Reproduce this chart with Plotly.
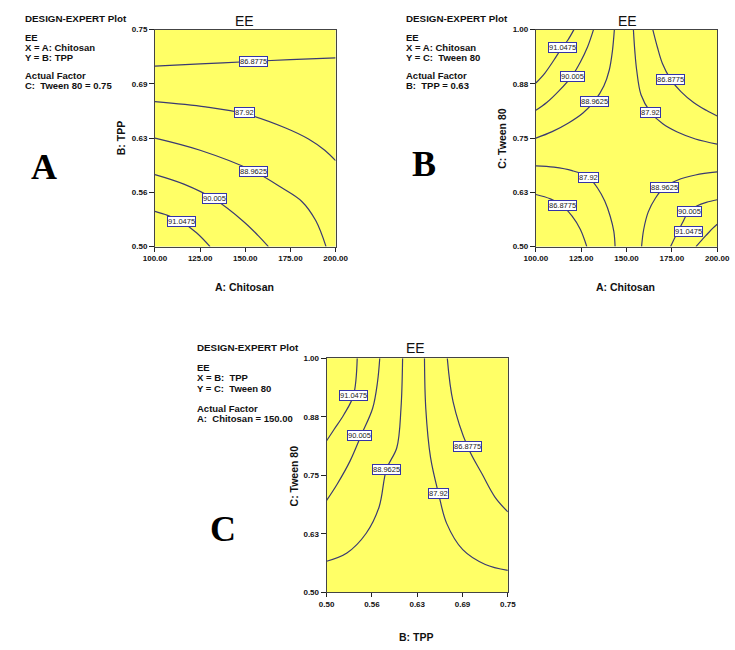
import plotly.graph_objects as go

# ---------------- Plot A: X = A: Chitosan, Y = B: TPP (C: Tween 80 = 0.75)
a_x_tickvals = [100, 125, 150, 175, 200]
a_x_ticktext = ["100.00", "125.00", "150.00", "175.00", "200.00"]
a_y_tickvals = [0.5, 0.5625, 0.625, 0.6875, 0.75]
a_y_ticktext = ["0.50", "0.56", "0.63", "0.69", "0.75"]

a_86877_x = [100, 125, 150, 175, 200]
a_86877_y = [0.708, 0.7105, 0.713, 0.7155, 0.7175]
a_8792_x = [100, 128, 150, 172, 185, 194, 200]
a_8792_y = [0.667, 0.661, 0.653, 0.637, 0.624, 0.611, 0.599]
a_889625_x = [100, 125, 154.5, 170, 181.3, 189, 194.7]
a_889625_y = [0.625, 0.611, 0.587, 0.568, 0.552, 0.53, 0.5]
a_90005_x = [100, 116, 133, 149, 157, 162.8]
a_90005_y = [0.583, 0.572, 0.5545, 0.529, 0.513, 0.5]
a_910475_x = [100, 107, 114.4, 123, 130.5]
a_910475_y = [0.5406, 0.536, 0.529, 0.516, 0.5]

a_label_text = ["86.8775", "87.92", "88.9625", "90.005", "91.0475"]
a_label_x = [154.6, 149.6, 154.6, 132.9, 114.6]
a_label_y = [0.7138, 0.654, 0.5867, 0.555, 0.529]

# ---------------- Plot B: X = A: Chitosan, Y = C: Tween 80 (B: TPP = 0.63)
b_x_tickvals = [100, 125, 150, 175, 200]
b_x_ticktext = ["100.00", "125.00", "150.00", "175.00", "200.00"]
b_y_tickvals = [0.5, 0.625, 0.75, 0.875, 1.0]
b_y_ticktext = ["0.50", "0.63", "0.75", "0.88", "1.00"]

b_tl_910475_x = [121.0, 117.5, 114.7, 110, 105, 100]
b_tl_910475_y = [1.0, 0.975, 0.96, 0.93, 0.90, 0.877]
b_tl_90005_x = [131.8, 128.5, 124.5, 119.9, 113, 106, 100]
b_tl_90005_y = [1.0, 0.96, 0.925, 0.893, 0.86, 0.832, 0.814]
b_tl_889625_x = [143.3, 142.2, 140.5, 137.5, 132.3, 126, 118, 109, 100]
b_tl_889625_y = [1.0, 0.95, 0.907, 0.87, 0.835, 0.808, 0.785, 0.765, 0.75]
b_tr_8792_x = [153.8, 154.6, 155.6, 158, 163.2, 170, 178, 188, 200]
b_tr_8792_y = [1.0, 0.95, 0.907, 0.85, 0.81, 0.783, 0.764, 0.748, 0.736]
b_tr_86877_x = [164.5, 167, 169.8, 174.3, 180, 187, 194, 200]
b_tr_86877_y = [1.0, 0.96, 0.922, 0.886, 0.857, 0.832, 0.814, 0.801]
b_bl_8792_x = [100, 110, 120, 129, 134, 138, 141, 143, 143.7]
b_bl_8792_y = [0.686, 0.683, 0.675, 0.66, 0.635, 0.605, 0.57, 0.535, 0.5]
b_bl_86877_x = [100, 108, 114.4, 120, 124.5, 128.1]
b_bl_86877_y = [0.62, 0.61, 0.595, 0.57, 0.54, 0.5]
b_br_889625_x = [158.3, 159.5, 162, 166, 170.7, 178, 188, 200]
b_br_889625_y = [0.5, 0.54, 0.58, 0.612, 0.636, 0.653, 0.665, 0.672]
b_br_90005_x = [174.3, 177.5, 181, 184, 189, 194, 200]
b_br_90005_y = [0.5, 0.528, 0.556, 0.5795, 0.594, 0.602, 0.608]
b_br_910475_x = [188.3, 191.5, 194.6, 197.5, 200]
b_br_910475_y = [0.5, 0.515, 0.529, 0.542, 0.5516]

b_label_text = ["91.0475", "90.005", "88.9625", "87.92", "86.8775",
                "87.92", "86.8775", "88.9625", "90.005", "91.0475"]
b_label_x = [114.7, 120.0, 132.3, 163.2, 174.3, 129.1, 114.6, 170.9, 184.6, 184.3]
b_label_y = [0.96, 0.893, 0.835, 0.81, 0.886, 0.66, 0.595, 0.636, 0.58, 0.534]

# ---------------- Plot C: X = B: TPP, Y = C: Tween 80 (A: Chitosan = 150.00)
c_x_tickvals = [0.5, 0.5625, 0.625, 0.6875, 0.75]
c_x_ticktext = ["0.50", "0.56", "0.63", "0.69", "0.75"]
c_y_tickvals = [0.5, 0.625, 0.75, 0.875, 1.0]
c_y_ticktext = ["0.50", "0.63", "0.75", "0.88", "1.00"]

c_910475_x = [0.5422, 0.5369, 0.5235, 0.5102, 0.5]
c_910475_y = [1.0, 0.92, 0.879, 0.848, 0.824]
c_90005_x = [0.5733, 0.5702, 0.5635, 0.548, 0.5324, 0.5147, 0.5]
c_90005_y = [1.0, 0.9494, 0.8933, 0.837, 0.781, 0.7317, 0.6966]
c_889625_x = [0.6048, 0.6026, 0.5968, 0.5826, 0.5724, 0.5546, 0.528, 0.5]
c_889625_y = [1.0, 0.8933, 0.809, 0.7633, 0.6826, 0.6264, 0.5843, 0.5667]
c_8792_x = [0.635, 0.6368, 0.6434, 0.6545, 0.6656, 0.6878, 0.7189, 0.75]
c_8792_y = [1.0, 0.893, 0.788, 0.7107, 0.6475, 0.5913, 0.5597, 0.547]
c_86877_x = [0.6665, 0.6745, 0.6945, 0.7145, 0.7322, 0.75]
c_86877_y = [1.0, 0.907, 0.811, 0.7528, 0.7037, 0.672]

c_label_text = ["91.0475", "90.005", "88.9625", "87.92", "86.8775"]
c_label_x = [0.5369, 0.5457, 0.5826, 0.6545, 0.6945]
c_label_y = [0.9213, 0.8357, 0.7633, 0.7107, 0.811]

# ---------------- styling
W, H = 735, 650
YELLOW = "#FFFF66"
LINE = "#3a3a72"
SANS = "Liberation Sans, Arial, sans-serif"
SERIF = "Liberation Serif, Times New Roman, serif"

panels = [
    dict(ax="", box=(148, 335, 26, 246), xr=[100, 200], yr=[0.5, 0.75],
         xt=(a_x_tickvals, a_x_ticktext), yt=(a_y_tickvals, a_y_ticktext),
         lines=[(a_86877_x, a_86877_y), (a_8792_x, a_8792_y), (a_889625_x, a_889625_y),
                (a_90005_x, a_90005_y), (a_910475_x, a_910475_y)],
         labels=(a_label_text, a_label_x, a_label_y)),
    dict(ax="2", box=(542.3, 730, 26, 246), xr=[100, 200], yr=[0.5, 1.0],
         xt=(b_x_tickvals, b_x_ticktext), yt=(b_y_tickvals, b_y_ticktext),
         lines=[(b_tl_910475_x, b_tl_910475_y), (b_tl_90005_x, b_tl_90005_y),
                (b_tl_889625_x, b_tl_889625_y), (b_tr_8792_x, b_tr_8792_y),
                (b_tr_86877_x, b_tr_86877_y), (b_bl_8792_x, b_bl_8792_y),
                (b_bl_86877_x, b_bl_86877_y), (b_br_889625_x, b_br_889625_y),
                (b_br_90005_x, b_br_90005_y), (b_br_910475_x, b_br_910475_y)],
         labels=(b_label_text, b_label_x, b_label_y)),
    dict(ax="3", box=(325.7, 513.3, 359.3, 596.7), xr=[0.5, 0.75], yr=[0.5, 1.0],
         xt=(c_x_tickvals, c_x_ticktext), yt=(c_y_tickvals, c_y_ticktext),
         lines=[(c_910475_x, c_910475_y), (c_90005_x, c_90005_y), (c_889625_x, c_889625_y),
                (c_8792_x, c_8792_y), (c_86877_x, c_86877_y)],
         labels=(c_label_text, c_label_x, c_label_y)),
]

fig = go.Figure()
annotations = []
layout = dict(width=W, height=H, margin=dict(l=0, r=0, t=0, b=0),
              paper_bgcolor="white", showlegend=False, hovermode=False)


def px(x):
    return x / W


def py(y):
    return 1 - y / H


for p in panels:
    ax = p["ax"]
    x0, x1, y0, y1 = p["box"]
    xa = dict(domain=[px(x0), px(x1)], range=p["xr"], tickvals=p["xt"][0], ticktext=p["xt"][1],
              ticks="outside", ticklen=4, tickcolor="#222", showline=True, linecolor="#444",
              linewidth=1, mirror=True, showgrid=False, zeroline=False,
              tickfont=dict(family=SANS, size=8, color="#111", weight="bold"),
              anchor="y" + ax, fixedrange=True)
    ya = dict(domain=[py(y1), py(y0)], range=p["yr"], tickvals=p["yt"][0], ticktext=p["yt"][1],
              ticks="outside", ticklen=5, tickcolor="#222", showline=True, linecolor="#444",
              linewidth=1, mirror=True, showgrid=False, zeroline=False,
              tickfont=dict(family=SANS, size=8, color="#111", weight="bold"),
              anchor="x" + ax, fixedrange=True)
    layout["xaxis" + ax] = xa
    layout["yaxis" + ax] = ya
    fig.add_shape(type="rect", xref="x" + ax + " domain", yref="y" + ax + " domain",
                  x0=0, x1=1, y0=0, y1=1, fillcolor=YELLOW, line=dict(width=0), layer="below")
    for lx, ly in p["lines"]:
        fig.add_trace(go.Scatter(x=lx, y=ly, mode="lines", xaxis="x" + ax, yaxis="y" + ax,
                                 line=dict(color=LINE, width=1.2, shape="spline", smoothing=1.0),
                                 hoverinfo="skip"))
    for t, lx, ly in zip(*p["labels"]):
        annotations.append(dict(text=t, x=lx, y=ly, xref="x" + ax, yref="y" + ax,
                                showarrow=False, bgcolor="white", bordercolor="#3434a8",
                                borderwidth=1, borderpad=0,
                                font=dict(family=SANS, size=7.5, color="#222")))

titles = [("EE", 241, 17), ("EE", 637, 17), ("EE", 418, 349)]
for t, x, y in titles:
    annotations.append(dict(text=t, x=px(x), y=py(y), xref="paper", yref="paper",
                            showarrow=False, xanchor="center", yanchor="middle",
                            font=dict(family=SANS, size=14, color="#111")))

x_titles = [("A: Chitosan", 241, 287), ("A: Chitosan", 635, 287), ("B: TPP", 418, 642)]
for t, x, y in x_titles:
    annotations.append(dict(text=t, x=px(x), y=py(y), xref="paper", yref="paper",
                            showarrow=False, xanchor="center", yanchor="middle",
                            font=dict(family=SANS, size=10.5, color="#111", weight="bold")))

y_titles = [("B: TPP", 113, 136), ("C: Tween 80", 507, 136), ("C: Tween 80", 292, 479)]
for t, x, y in y_titles:
    annotations.append(dict(text=t, x=px(x), y=py(y), xref="paper", yref="paper",
                            showarrow=False, xanchor="center", yanchor="middle", textangle=-90,
                            font=dict(family=SANS, size=10.5, color="#111", weight="bold")))

info_a = ["DESIGN-EXPERT Plot", "EE", "X = A: Chitosan", "Y = B: TPP", "Actual Factor", "C:  Tween 80 = 0.75"]
info_b = ["DESIGN-EXPERT Plot", "EE", "X = A: Chitosan", "Y = C:  Tween 80", "Actual Factor", "B:  TPP = 0.63"]
info_c = ["DESIGN-EXPERT Plot", "EE", "X = B:  TPP", "Y = C:  Tween 80", "Actual Factor", "A:  Chitosan = 150.00"]
info_rows_ab = [15, 34, 44, 54, 73, 83]
info_rows_c = [348, 368.5, 379, 389.5, 410, 420]
for lines, x, rows in [(info_a, 11, info_rows_ab), (info_b, 405.7, info_rows_ab), (info_c, 189, info_rows_c)]:
    for t, y in zip(lines, rows):
        annotations.append(dict(text=t, x=px(x), y=py(y), xref="paper", yref="paper",
                                showarrow=False, xanchor="left", yanchor="middle",
                                font=dict(family=SANS, size=9.5 if t != "DESIGN-EXPERT Plot" else 9.8,
                                          color="#111", weight="bold")))

letters = [("A", 33, 165), ("B", 427, 162), ("C", 218, 532)]
for t, x, y in letters:
    annotations.append(dict(text=t, x=px(x), y=py(y), xref="paper", yref="paper",
                            showarrow=False, xanchor="center", yanchor="middle",
                            font=dict(family=SERIF, size=36, color="#000", weight="bold")))

layout["annotations"] = annotations
fig.update_layout(**layout)
fig.write_html("out.html")
